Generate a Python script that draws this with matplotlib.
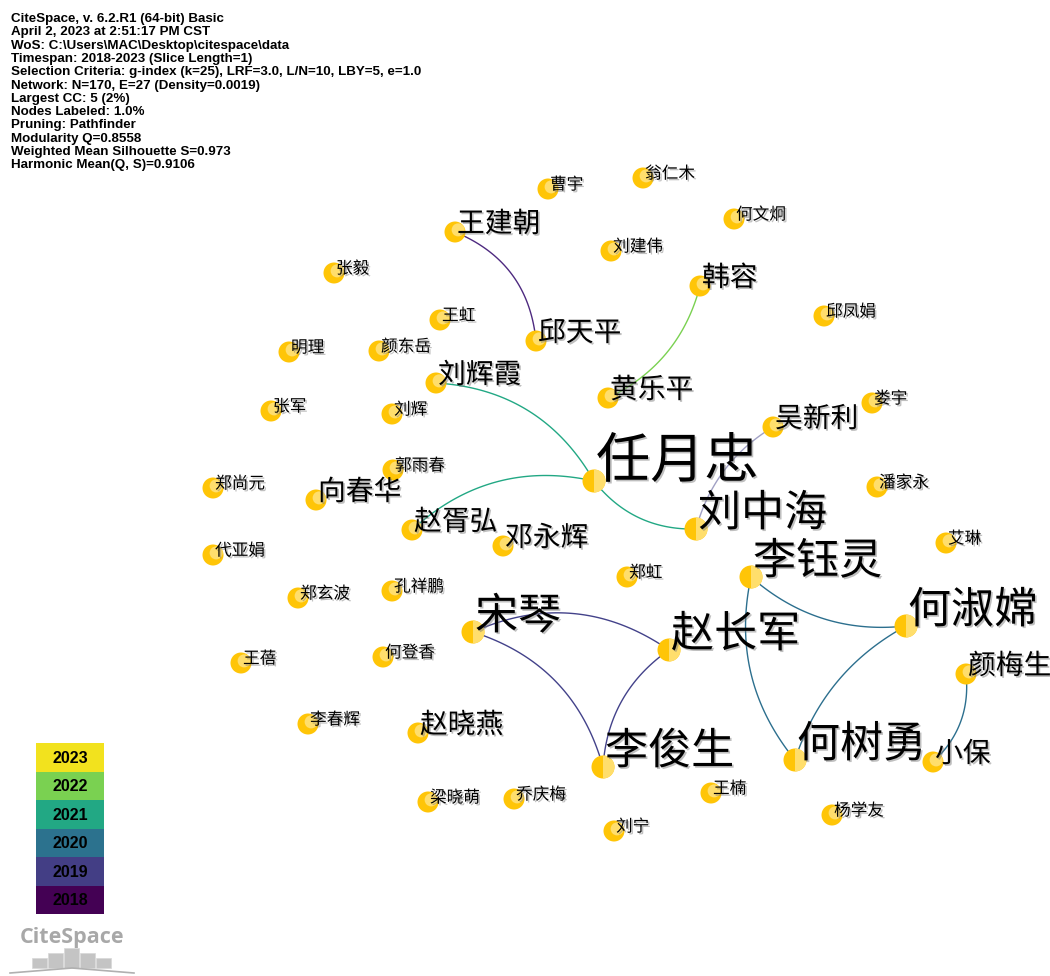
import matplotlib
matplotlib.use("Agg")
import matplotlib.pyplot as plt
import matplotlib.patheffects as pe
from matplotlib.patches import Circle, Wedge, Rectangle
import numpy as np

plt.rcParams['font.family'] = ['Noto Sans CJK SC', 'DejaVu Sans']

# ---------------------------------------------------------------------------
# Data
# ---------------------------------------------------------------------------
header_lines = [
    "CiteSpace, v. 6.2.R1 (64-bit) Basic",
    "April 2, 2023 at 2:51:17 PM CST",
    "WoS: C:\\Users\\MAC\\Desktop\\citespace\\data",
    "Timespan: 2018-2023 (Slice Length=1)",
    "Selection Criteria: g-index (k=25), LRF=3.0, L/N=10, LBY=5, e=1.0",
    "Network: N=170, E=27 (Density=0.0019)",
    "Largest CC: 5 (2%)",
    "Nodes Labeled: 1.0%",
    "Pruning: Pathfinder",
    "Modularity Q=0.8558",
    "Weighted Mean Silhouette S=0.973",
    "Harmonic Mean(Q, S)=0.9106",
]

# node name, x, y (layout position), label level (0 small, 1 medium, 2 large, 3 largest)
names = ["曹宇", "翁仁木", "何文炯", "王建朝", "刘建伟", "张毅", "韩容", "邱凤娟",
         "王虹", "邱天平", "明理", "颜东岳", "刘辉霞", "黄乐平", "张军", "刘辉",
         "娄宇", "吴新利", "任月忠", "郭雨春", "潘家永", "郑尚元", "向春华", "刘中海",
         "赵胥弘", "邓永辉", "艾琳", "李钰灵", "代亚娟", "郑虹", "郑玄波", "孔祥鹏",
         "宋琴", "赵长军", "何淑嫦", "王蓓", "何登香", "颜梅生", "李春辉", "赵晓燕",
         "李俊生", "何树勇", "小保", "梁晓萌", "乔庆梅", "王楠", "杨学友", "刘宁"]
node_x = [548, 643, 734, 455, 611, 334, 700, 824,
          440, 536, 289, 379, 436, 608, 271, 392,
          872, 773, 594, 393, 877, 213, 316, 696,
          412, 503, 946, 751, 213, 627, 298, 392,
          473, 669, 906, 241, 383, 966, 308, 418,
          603, 795, 933, 428, 514, 711, 832, 614]
node_y = [189, 178, 219, 232, 251, 273, 286, 316,
          320, 341, 352, 351, 383, 398, 411, 414,
          403, 427, 481, 470, 487, 488, 500, 529,
          530, 546, 543, 577, 555, 577, 598, 591,
          632, 650, 626, 663, 657, 674, 724, 733,
          767, 760, 762, 802, 799, 793, 815, 831]
level = [0, 0, 0, 1, 0, 0, 1, 0,
         0, 1, 0, 0, 1, 1, 0, 0,
         0, 1, 3, 0, 0, 0, 1, 2,
         1, 1, 0, 2, 0, 0, 0, 0,
         2, 2, 2, 0, 0, 1, 0, 1,
         2, 2, 1, 0, 0, 0, 0, 0]

# co-authorship links (source, target, year of first co-occurrence)
edge_src = ["王建朝", "韩容", "刘辉霞", "任月忠", "赵胥弘", "刘中海", "李钰灵", "李钰灵",
            "何淑嫦", "颜梅生", "宋琴", "宋琴", "赵长军"]
edge_dst = ["邱天平", "黄乐平", "任月忠", "刘中海", "任月忠", "吴新利", "何淑嫦", "何树勇",
            "何树勇", "小保", "赵长军", "李俊生", "李俊生"]
edge_year = [2018, 2022, 2021, 2021, 2021, 2019, 2020, 2020,
             2020, 2020, 2019, 2019, 2019]
edge_bend = [-0.3, -0.23, -0.27, 0.25, -0.26, -0.2, 0.22, 0.24,
             0.2, -0.25, -0.28, -0.27, 0.24]

years = [2018, 2019, 2020, 2021, 2022, 2023]
year_colors = ["#440154", "#433e85", "#2c728e", "#22a884", "#7ad151", "#f2e21e"]
edge_colors = {2018: "#4e2a80", 2019: "#43428a", 2020: "#2c6f8e",
               2021: "#22a884", 2022: "#7ad151", 2023: "#f2e21e"}

logo_bars = [10, 15, 20, 15, 10]

# ---------------------------------------------------------------------------
# Figure
# ---------------------------------------------------------------------------
fig = plt.figure(figsize=(10.5, 9.76), dpi=100)
ax = fig.add_axes([0, 0, 1, 1])
ax.set_xlim(0, 1050)
ax.set_ylim(976, 0)
ax.axis("off")

pos = {n: (x, y) for n, x, y in zip(names, node_x, node_y)}

# edges as quadratic curves
t = np.linspace(0, 1, 60)
for s, d, yr, b in zip(edge_src, edge_dst, edge_year, edge_bend):
    A = np.array(pos[s], dtype=float)
    B = np.array(pos[d], dtype=float)
    vec = B - A
    L = np.hypot(*vec)
    n = np.array([-vec[1], vec[0]]) / L
    C = (A + B) / 2 + b * L * n
    P = ((1 - t) ** 2)[:, None] * A + (2 * t * (1 - t))[:, None] * C + (t ** 2)[:, None] * B
    col = edge_colors[yr]
    alpha = 0.5 if s == "刘中海" else 1.0
    ax.plot(P[:, 0], P[:, 1], color=col, lw=1.0, alpha=alpha, zorder=1)

# nodes
dark = "#ffc507"
light = "#ffde6c"
for n, x, y, lv in zip(names, node_x, node_y, level):
    r = 10.5 if lv < 2 else 11.5
    ax.add_patch(Circle((x, y), r, facecolor=dark, edgecolor="none", zorder=2))
    if lv >= 2:
        ax.add_patch(Wedge((x, y), r, -90, 90, facecolor=light, edgecolor="none", zorder=3))
    else:
        ax.add_patch(Circle((x + 0.3 * r, y - 0.2 * r), 0.62 * r, facecolor=light,
                            edgecolor="none", zorder=3))

# labels
font_sizes = [12, 20, 31, 39]
offsets = [-4, -8, -15, -19]
shadow = [pe.SimplePatchShadow(offset=(1.2, -1.2), shadow_rgbFace="0.45", alpha=0.45), pe.Normal()]
for n, x, y, lv in zip(names, node_x, node_y, level):
    ax.text(x + 2, y + offsets[lv], n, fontsize=font_sizes[lv], ha="left", va="center",
            color="black", zorder=4, path_effects=shadow)

# header
for i, line in enumerate(header_lines):
    ax.text(11, 19 + i * 13.3, line, fontsize=9.6, fontweight="bold", family="Liberation Sans",
            ha="left", va="center", color="black")

# year legend
box_x, box_w, box_h = 36, 68, 28.5
top = 743
for i, (yr, c) in enumerate(zip(years[::-1], year_colors[::-1])):
    y0 = top + i * box_h
    ax.add_patch(Rectangle((box_x, y0), box_w, box_h, facecolor=c, edgecolor="none"))
    ax.text(box_x + box_w / 2, y0 + box_h / 2 + 1, str(yr), fontsize=11.5, fontweight="bold",
            family="Liberation Sans", ha="center", va="center", color="black")

# CiteSpace logo
ax.text(72, 938, "CiteSpace", fontsize=15.5, fontweight="bold", family="Open Sans",
        color="#a8a8a8", ha="center", va="center")
bar_w = 16
start = 72 - len(logo_bars) * bar_w / 2
for i, h in enumerate(logo_bars):
    ax.add_patch(Rectangle((start + i * bar_w, 968 - h), bar_w - 1, h,
                           facecolor="#c4c4c4", edgecolor="#d8d8d8", lw=0.5))
ax.plot([10, 72, 134], [973, 968, 973], color="#b0b0b0", lw=1.2)

fig.savefig("out.png", dpi=100)
